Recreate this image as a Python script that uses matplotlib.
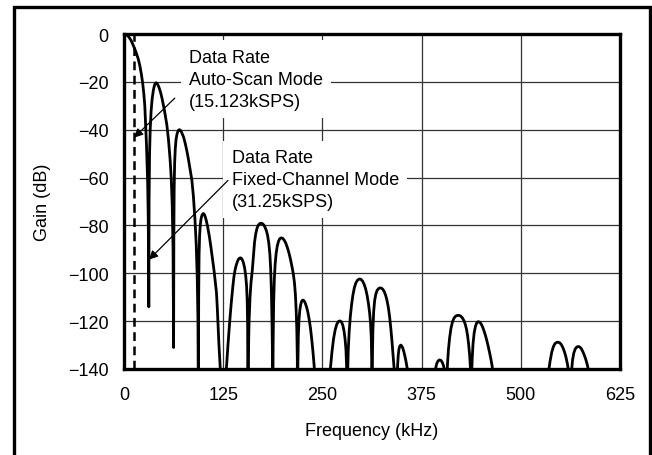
import matplotlib
matplotlib.use("Agg")
import matplotlib.pyplot as plt
from matplotlib.patches import Rectangle

plt.rcParams['font.family'] = ['Liberation Sans', 'DejaVu Sans']

# ---- data (frequency in kHz, gain in dB) ----
lobe_main = [(0, 0), (3, -0.3), (6, -1.2), (9, -2.7), (12, -5), (15, -7.5), (18, -10.5),
             (20, -13.3), (22, -17), (23.5, -20.5), (25, -25), (26.2, -30), (27.3, -38),
             (28.3, -46), (29.2, -55), (29.8, -62), (30.5, -76), (31, -95), (31.25, -114)]
lobe_2 = [(31.25, -114), (31.6, -70), (32.2, -50), (33, -40), (34.2, -32), (35.5, -27),
          (37, -23.5), (38.5, -21.3), (39.5, -20.6), (40.5, -20.4), (41.5, -20.6),
          (42.5, -21.1), (44, -22.2), (46, -24.3), (48, -27), (51, -32), (54, -38),
          (56, -44), (58, -52), (59.5, -60), (60.8, -72), (61.8, -90), (62.5, -131)]
lobe_3 = [(62.5, -131), (62.8, -85), (63.2, -65), (63.8, -54), (64.6, -48), (65.6, -44),
          (66.8, -41.8), (68, -40.6), (69, -40.1), (70, -40), (71, -40.2), (72.2, -40.8),
          (73.5, -41.8), (75, -43), (77, -45.5), (79, -48.5), (81, -52), (83.5, -57),
          (85.5, -61), (87.5, -68), (89.5, -78), (91, -88), (92.3, -102), (93.2, -120),
          (93.75, -160)]
lobe_4 = [(93.75, -160), (94.1, -110), (94.6, -92), (95.3, -84), (96.2, -79.5),
          (97.2, -77), (98.4, -75.6), (99.8, -75), (101.2, -75.4), (102.6, -76.6),
          (104, -78.4), (105.5, -80.8), (107.5, -84.5), (109.5, -89), (111.5, -94),
          (113.5, -99), (115, -103.5), (116.5, -108), (117.5, -114), (118.3, -120),
          (119.5, -129), (121, -138), (122.5, -148), (124, -158)]
lobe_5 = [(125, -165), (127.6, -148), (129, -140), (131, -130), (133, -121), (135, -113),
          (137, -106), (138.5, -101.5), (140, -98.5), (141.5, -96.5), (143, -95),
          (144.5, -94), (146, -93.6), (147.5, -93.6), (149, -94.3), (150.5, -95.6),
          (152, -97.8), (153.3, -100.8), (154.4, -105), (155.2, -111), (155.8, -122),
          (156.25, -160)]
lobe_6 = [(156.25, -160), (156.7, -135), (157.6, -120), (158.8, -110), (160, -104),
          (161.6, -99), (163, -93), (164.5, -87), (166, -83.5), (167.5, -81.3), (169, -80),
          (170.5, -79.4), (172, -79.1), (173.5, -79.1), (175, -79.4), (176.5, -80),
          (178, -81), (179.5, -82.3), (181, -84.3), (182.5, -87.5), (183.8, -92),
          (184.8, -98), (185.7, -107), (186.5, -120), (187.1, -135), (187.5, -160)]
lobe_7 = [(187.5, -160), (187.9, -130), (188.6, -112), (189.5, -102), (190.5, -96),
          (191.8, -91.5), (193.2, -88.5), (194.7, -86.6), (196.4, -85.5), (198.2, -85.2),
          (200, -85.4), (202, -86.2), (204, -87.5), (206, -89.4), (208, -91.7),
          (210, -94.5), (212, -97.8), (213.5, -100.6), (214.8, -104), (216, -109),
          (217, -116), (217.8, -124), (218.4, -136), (218.75, -160)]
lobe_8 = [(218.75, -160), (219.1, -138), (219.7, -126), (220.5, -119.5), (221.5, -115.5),
          (222.7, -113), (224, -111.6), (225.3, -111.2), (226.7, -111.4), (228.2, -112.3),
          (229.8, -113.8), (231.5, -116), (233.2, -119), (235, -123), (236.7, -128),
          (238.3, -133.5), (239.8, -139.5), (241.5, -147), (243, -155)]
lobe_9 = [(256, -157), (258, -148), (260, -140), (262, -133), (264, -127.5),
          (266, -123.8), (268, -121.4), (270, -120.2), (272, -119.9), (274, -120.3),
          (275.8, -121.8), (277.3, -124.2), (278.6, -127.6), (279.7, -132), (280.5, -139),
          (281, -148), (281.25, -160)]
lobe_10 = [(281.25, -160), (281.7, -143), (282.6, -132), (283.8, -124), (285.2, -118),
           (286.8, -113), (288.5, -109), (290.3, -106), (292.2, -104), (294.2, -102.9),
           (296.3, -102.4), (298.4, -102.5), (300.5, -103.2), (302.5, -104.5),
           (304.5, -106.5), (306.3, -109.2), (308, -112.6), (309.5, -116.5), (310.7, -121),
           (311.6, -127), (312.1, -136), (312.5, -160)]
lobe_11 = [(312.5, -160), (312.9, -138), (313.6, -124), (314.6, -116), (315.8, -111.5),
           (317.3, -108.7), (319, -107.1), (320.8, -106.4), (322.6, -106.1), (324.4, -106.2),
           (326.2, -106.7), (328, -107.7), (329.8, -109.3), (331.5, -111.5), (333.2, -114.5),
           (334.8, -118.5), (336.3, -123.3), (337.7, -128.5), (339, -134), (340.3, -139.5),
           (341.6, -146), (343, -154)]
lobe_12 = [(343.75, -160), (344.1, -146), (344.7, -139), (345.5, -134.5), (346.4, -131.8),
           (347.5, -130.4), (348.8, -130), (350.1, -130.4), (351.4, -131.4), (352.8, -133),
           (354.2, -135), (355.6, -137.3), (357, -140), (358.5, -143.5), (360, -147)]
lobe_13 = [(389, -150), (391, -144), (392.5, -140), (394, -137.8), (395.8, -136.6),
           (397.6, -136.2), (399.4, -136.4), (401, -137.2), (402.5, -138.5), (403.8, -140.3),
           (404.9, -143), (405.7, -147), (406.25, -160)]
lobe_14 = [(406.25, -160), (406.7, -146), (407.6, -138), (408.8, -132), (410.3, -127),
           (412, -123), (413.9, -120.3), (415.9, -118.7), (418, -117.9), (420.1, -117.6),
           (422.2, -117.6), (424.3, -117.9), (426.3, -118.6), (428.2, -119.7), (430, -121.3),
           (431.6, -123.4), (433, -126.2), (434.3, -129.8), (435.5, -134), (436.6, -140),
           (437.2, -148), (437.5, -160)]
lobe_15 = [(437.5, -160), (437.9, -145), (438.7, -136), (439.8, -129.5), (441.2, -125),
           (442.8, -122.2), (444.5, -120.7), (446.3, -120.2), (448.1, -120.4),
           (449.9, -121.1), (451.7, -122.3), (453.5, -123.9), (455.3, -125.8), (457.1, -128),
           (458.9, -130.5), (460.7, -133.2), (462.4, -136), (464, -139), (465.5, -142.5),
           (467, -146.5)]
lobe_16 = [(531, -152), (533, -146), (535, -141), (537, -136.5), (539, -133), (541, -130.7),
           (543, -129.4), (545, -128.9), (547.2, -128.8), (549.2, -129.1), (551.2, -129.9),
           (553.2, -131.2), (555.2, -133), (557.1, -135.3), (558.9, -138.2), (560.4, -141.5),
           (561.6, -146), (562.5, -160)]
lobe_17 = [(562.5, -160), (563, -148), (563.9, -141), (565.2, -136.3), (566.8, -133.3),
           (568.6, -131.6), (570.5, -130.8), (572.4, -130.6), (574.3, -130.8), (576.2, -131.5),
           (578.1, -132.7), (580, -134.2), (581.9, -136), (583.6, -138), (585.2, -140.3),
           (586.7, -143), (588, -146)]

lobes = [lobe_main, lobe_2, lobe_3, lobe_4, lobe_5, lobe_6, lobe_7, lobe_8, lobe_9,
         lobe_10, lobe_11, lobe_12, lobe_13, lobe_14, lobe_15, lobe_16, lobe_17]

auto_scan_rate = 13.0      # dashed marker position (kHz) as drawn
x_ticks = [0, 125, 250, 375, 500, 625]
y_ticks = [0, -20, -40, -60, -80, -100, -120, -140]
y_tick_labels = ['0', '\u221220', '\u221240', '\u221260', '\u221280', '\u2212100',
                 '\u2212120', '\u2212140']

label_auto = "Data Rate\nAuto-Scan Mode\n(15.123kSPS)"
label_fixed = "Data Rate\nFixed-Channel Mode\n(31.25kSPS)"

# ---- figure ----
W, H = 652, 456
FS = 13
fig = plt.figure(figsize=(W / 100, H / 100), dpi=100)
ax = fig.add_axes([124 / W, 1 - 370 / H, (620 - 124) / W, (370 - 35) / H])

ax.set_xlim(0, 625)
ax.set_ylim(-140, 0)
ax.set_xticks(x_ticks)
ax.set_yticks(y_ticks)
ax.set_yticklabels(y_tick_labels)
ax.tick_params(axis='both', length=0, labelsize=FS, colors='black')
ax.tick_params(axis='x', pad=12)
ax.tick_params(axis='y', pad=11)
ax.grid(True, color='#333333', linewidth=0.9, zorder=0)
ax.set_axisbelow(True)
for s in ax.spines.values():
    s.set_linewidth(2.4)
    s.set_zorder(6)

freqs = []
gains = []
for lobe in lobes:
    for f, g in lobe:
        freqs.append(f)
        gains.append(g)
ax.plot(freqs, gains, color='black', linewidth=2.0, solid_joinstyle='round', zorder=4)

ax.axvline(auto_scan_rate, color='black', linewidth=1.8, linestyle=(0, (3.5, 2.2)), zorder=3)

box = dict(boxstyle='square,pad=0.45', facecolor='white', edgecolor='none')
ax.text(81.7, -18.9, label_auto, ha='left', va='center', fontsize=FS,
        linespacing=1.4, bbox=box, zorder=2)
ax.text(135.6, -60.8, label_fixed, ha='left', va='center', fontsize=FS,
        linespacing=1.4, bbox=box, zorder=2)

arrow = dict(arrowstyle='-|>', color='black', lw=0.9, mutation_scale=13,
             shrinkA=0, shrinkB=0)
ax.annotate('', xy=(12.7, -43.3), xytext=(64, -26.8), arrowprops=arrow, zorder=5)
ax.annotate('', xy=(31.5, -94.3), xytext=(131, -61.2), arrowprops=arrow, zorder=5)

ax.set_xlabel('Frequency (kHz)', fontsize=FS, labelpad=14)
ax.set_ylabel('Gain (dB)', fontsize=FS, labelpad=12)

fig.add_artist(Rectangle((14 / W, -0.05), (650 - 14) / W, 1.05 - 8 / H,
                         transform=fig.transFigure, fill=False,
                         edgecolor='black', linewidth=2.4))

fig.savefig('out.png', dpi=100)
